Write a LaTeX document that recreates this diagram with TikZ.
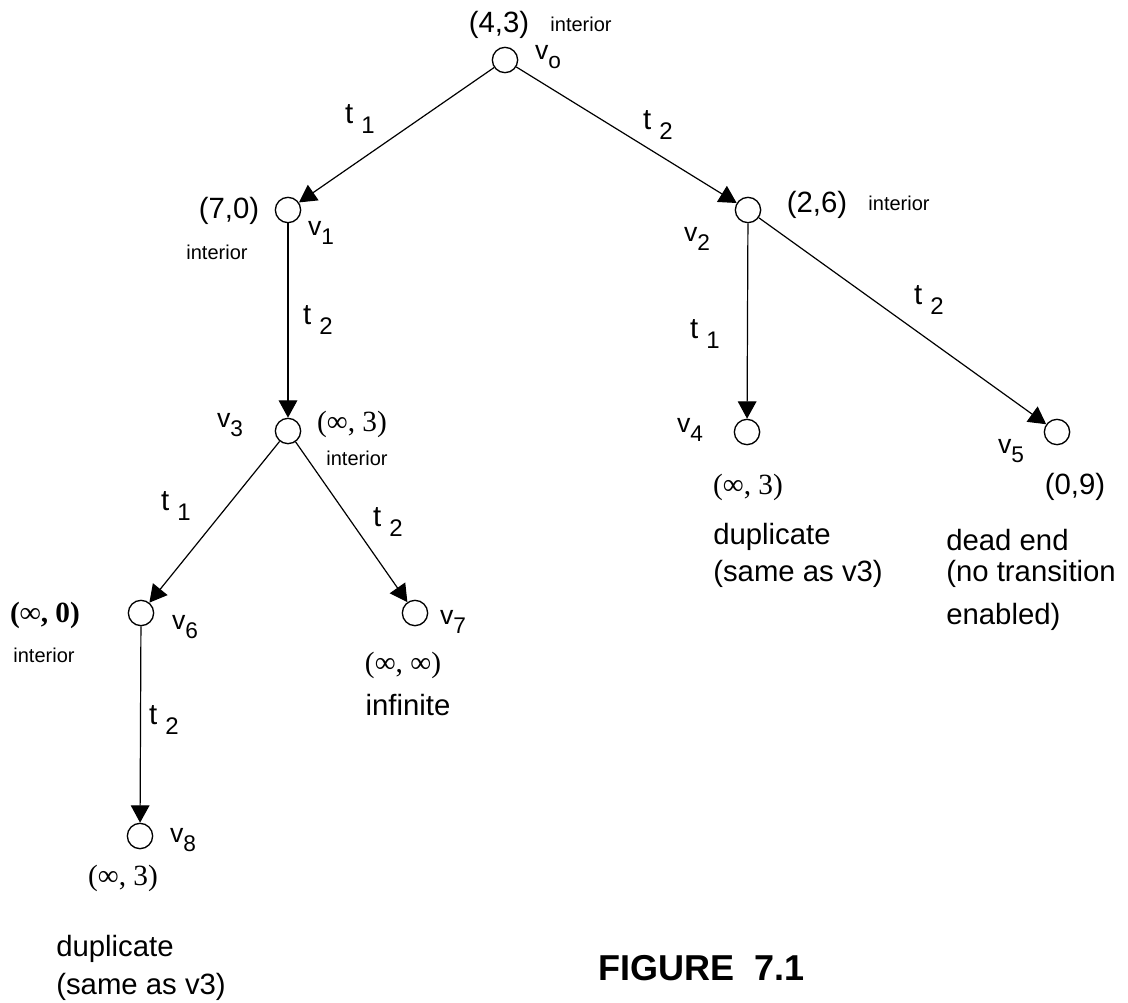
\documentclass[tikz,border=0pt]{standalone}
\usepackage{fontspec}
\setmainfont{Liberation Sans}
\newfontfamily\serifnum{Liberation Serif}
\usetikzlibrary{arrows.meta}

\newcommand{\vlab}[1]{v\raisebox{-7pt}{\fontsize{17}{17}\selectfont #1}}
\newcommand{\tlab}[1]{t\ \raisebox{-7pt}{\fontsize{18}{18}\selectfont #1}}

\begin{document}
\begin{tikzpicture}[x=0.75pt,y=-0.75pt,>={Triangle[length=13pt,width=14pt]},
	state/.style={circle,draw,line width=1pt,minimum size=19pt,inner sep=0pt},
	lbl/.style={inner sep=0pt,font=\fontsize{22}{26}\selectfont},
	small/.style={inner sep=0pt,font=\fontsize{15}{18}\selectfont},
	vname/.style={inner sep=0pt,font=\fontsize{20}{24}\selectfont},
	tname/.style={inner sep=0pt,font=\fontsize{22}{26}\selectfont},
	vals/.style={inner sep=0pt,font=\serifnum\fontsize{22}{26}\selectfont},
	trans/.style={->,line width=0.9pt}]
			\useasboundingbox (0,0) rectangle (1128,1003);

			\node [state] (v0) at (505,60) {};
			\node [state] (v1) at (288,210) {};
			\node [state] (v2) at (748,210) {};
			\node [state] (v3) at (288,431) {};
			\node [state] (v4) at (747,432) {};
			\node [state] (v5) at (1057,432) {};
			\node [state] (v6) at (141,613) {};
			\node [state] (v7) at (415,613) {};
			\node [state] (v8) at (140,836) {};

			\draw [trans] (v0) -- (v1);
			\draw [trans] (v0) -- (v2);
			\draw [trans] (v1) -- (v3);
			\draw [trans] (v2) -- (v4);
			\draw [trans] (v2) -- (v5);
			\draw [trans] (v3) -- (v6);
			\draw [trans] (v3) -- (v7);
			\draw [trans] (v6) -- (v8);

			\node [tname] (t01) at (360,119) {\tlab{1}};
			\node [tname] (t02) at (658,125) {\tlab{2}};
			\node [tname] (t13) at (318,320) {\tlab{2}};
			\node [tname] (t24) at (705,334) {\tlab{1}};
			\node [tname] (t25) at (929,300) {\tlab{2}};
			\node [tname] (t36) at (176,506) {\tlab{1}};
			\node [tname] (t37) at (388,522) {\tlab{2}};
			\node [tname] (t68) at (164,720) {\tlab{2}};

			\node [lbl] (m0) at (499,25) {(4,3)};
			\node [small] (i0) at (581,24) {interior};
			\node [vname] (n0) at (548,57) {\vlab{o}};

			\node [lbl] (m1) at (229,211) {(7,0)};
			\node [small] (i1) at (217,252) {interior};
			\node [vname] (n1) at (321,233) {\vlab{1}};

			\node [lbl] (m2) at (817,205) {(2,6)};
			\node [small] (i2) at (899,203) {interior};
			\node [vname] (n2) at (697,239) {\vlab{2}};

			\node [vname] (n3) at (230,425) {\vlab{3}};
			\node [vals] (m3) at (352,424) {(∞, 3)};
			\node [small] (i3) at (357,458) {interior};

			\node [vname] (n4) at (690,430) {\vlab{4}};
			\node [vals] (m4) at (748,487) {(∞, 3)};
			\node [lbl,anchor=base west] (d4a) at (713,544) {duplicate};
			\node [lbl,anchor=base west] (d4b) at (713,581) {(same as v3)};

			\node [vname] (n5) at (1011,451) {\vlab{5}};
			\node [lbl] (m5) at (1075,487) {(0,9)};
			\node [lbl,anchor=base west] (d5a) at (946,550) {dead end};
			\node [lbl,anchor=base west] (d5b) at (946,581) {(no transition};
			\node [lbl,anchor=base west] (d5c) at (946,624) {enabled)};

			\node [vals,font=\serifnum\bfseries\fontsize{22}{26}\selectfont] (m6) at (45,615) {(∞, 0)};
			\node [small] (i6) at (44,655) {interior};
			\node [vname] (n6) at (185,627) {\vlab{6}};

			\node [vname] (n7) at (453,622) {\vlab{7}};
			\node [vals] (m7) at (403,665) {(∞, ∞)};
			\node [lbl] (d7) at (408,705) {infinite};

			\node [vname] (n8) at (183,840) {\vlab{8}};
			\node [vals] (m8) at (123,878) {(∞, 3)};
			\node [lbl,anchor=base west] (d8a) at (56,956) {duplicate};
			\node [lbl,anchor=base west] (d8b) at (56,994) {(same as v3)};

			\node [anchor=base west,inner sep=0pt,font=\bfseries\fontsize{27}{32}\selectfont] (fig) at (598,980) {FIGURE\ \ 7.1};
		\end{tikzpicture}
\end{document}
